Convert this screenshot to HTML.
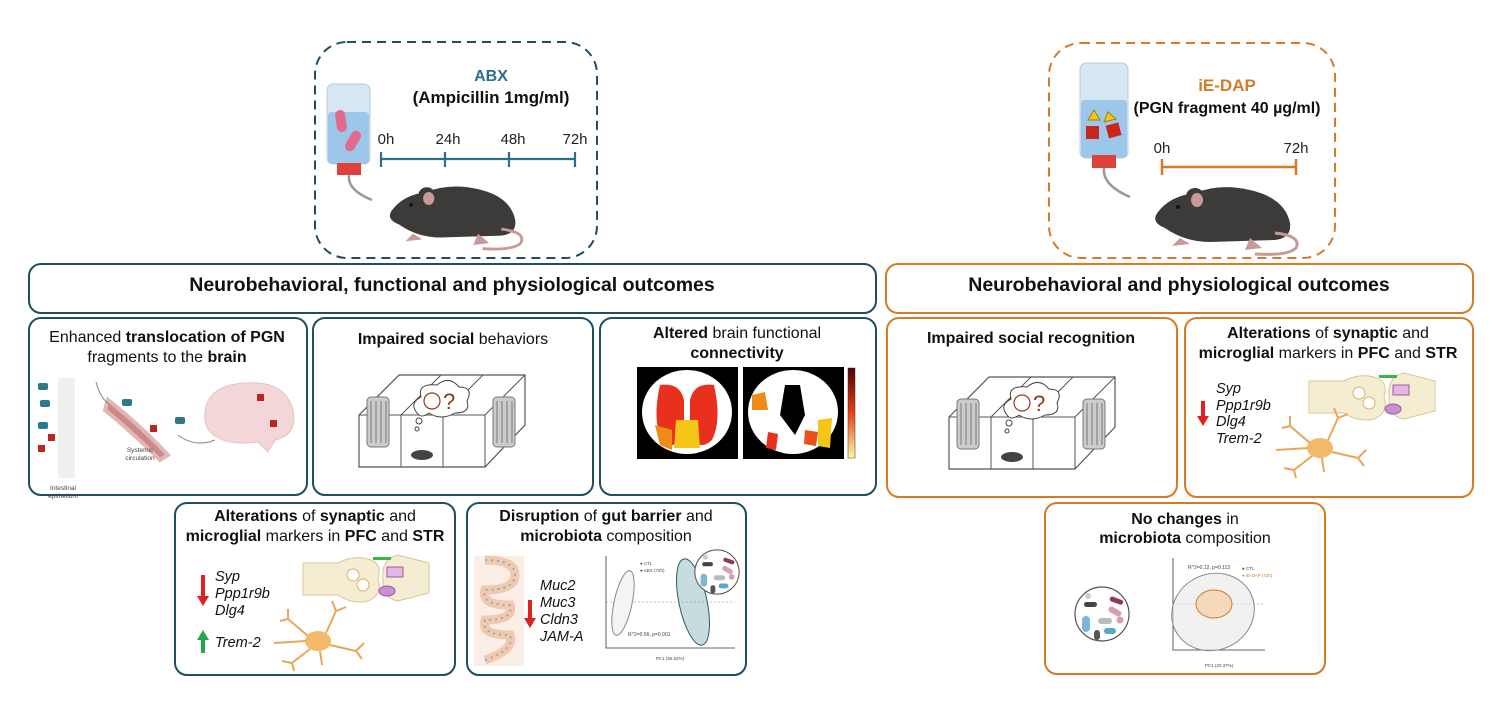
<!DOCTYPE html>
<html><head><meta charset="utf-8"><style>
html,body{margin:0;padding:0;background:#fff;}
svg{display:block;font-family:"Liberation Sans",sans-serif;}
.t{font-size:16px;fill:#111;text-anchor:middle;}
.b{font-weight:bold;}
.g{font-size:14.5px;font-style:italic;fill:#111;}
</style></head><body>
<svg width="1500" height="701" viewBox="0 0 1500 701" xmlns="http://www.w3.org/2000/svg">
<defs>
<g id="mouse">
 <path d="M15 50 Q0 44 8 34 Q20 18 45 15 Q70 5 100 12 Q135 20 140 45 Q142 60 125 62 L60 64 Q35 64 15 50Z" fill="#3d3a3a"/>
 <ellipse cx="45" cy="18" rx="9" ry="8" fill="#3d3a3a"/>
 <ellipse cx="47" cy="22" rx="6" ry="7" fill="#c79a98"/>
 <circle cx="28" cy="29" r="2" fill="#111"/>
 <path d="M125 55 Q152 58 146 70 Q138 78 105 76" stroke="#c79a98" stroke-width="3" fill="none"/>
 <path d="M30 60 L22 68 L40 66Z M100 60 L95 72 L112 70Z" fill="#c79a98"/>
</g>
<g id="cage">
 <path d="M0 40 L40 0 L166 0 L166 50 L126 92 L0 92 Z" fill="none" stroke="#555" stroke-width="1.2"/>
 <path d="M0 40 L126 40 L166 0 M126 40 L126 92 M42 40 L42 92 M84 40 L84 92 M42 40 L82 0 M84 40 L124 0" fill="none" stroke="#555" stroke-width="1"/>
 <rect x="8" y="22" width="22" height="50" rx="4" fill="#ccc" stroke="#777"/>
 <rect x="134" y="22" width="22" height="50" rx="4" fill="#ccc" stroke="#777"/>
 <path d="M12 26v42M17 26v42M22 26v42M27 26v42M138 26v42M143 26v42M148 26v42M153 26v42" stroke="#777"/>
 <ellipse cx="63" cy="80" rx="11" ry="5" fill="#444"/>
 <path d="M58 38 Q50 28 62 22 Q58 8 78 10 Q90 0 100 12 Q115 12 108 26 Q112 38 96 38 Q82 46 70 38 Q62 44 58 38Z" fill="#fff" stroke="#444"/>
 <circle cx="73" cy="26" r="8" fill="none" stroke="#8b3a1a" stroke-width="1.2"/>
 <text x="84" y="34" font-size="22" fill="#8b3a1a">?</text>
 <circle cx="60" cy="46" r="3" fill="#fff" stroke="#444"/><circle cx="58" cy="54" r="2" fill="#fff" stroke="#444"/>
</g>
<g id="syn">
 <path d="M0 8 L35 8 Q50 0 65 4 Q80 8 75 24 Q80 40 65 46 Q50 50 35 40 L0 40 Z" fill="#f5edd2" stroke="#d9c49a"/>
 <path d="M80 24 Q78 4 95 0 L126 8 L126 38 L95 46 Q80 44 80 24Z" fill="#f5edd2" stroke="#d9c49a"/>
 <circle cx="50" cy="20" r="6" fill="#fff" stroke="#d4b36a"/><circle cx="60" cy="30" r="6" fill="#fff" stroke="#d4b36a"/>
 <rect x="70" y="2" width="18" height="3" fill="#3bb54a"/>
 <rect x="84" y="12" width="16" height="10" fill="#e2b8e6" stroke="#9b5aa5"/>
 <ellipse cx="84" cy="36" rx="8" ry="5" fill="#c890d0" stroke="#9b5aa5"/>
</g>
<g id="neu">
 <ellipse cx="0" cy="0" rx="13" ry="10" fill="#f2b968"/>
 <path d="M-10 -5 L-30 -22 L-38 -20 M-30 -22 L-30 -32 M8 -8 L18 -30 L28 -34 M18 -30 L14 -40 M12 4 L38 10 L46 2 M38 10 L44 18 M-8 8 L-26 22 L-36 20 M-26 22 L-24 30 M-12 0 L-44 2 M2 10 L4 24" stroke="#e8a65a" stroke-width="2" fill="none"/>
</g>
<g id="bact">
 <circle cx="0" cy="0" r="27" fill="#fff" stroke="#555" stroke-width="1.2"/>
 <rect x="-18" y="-12" width="13" height="5" rx="2.5" fill="#444"/>
 <rect x="2" y="-20" width="14" height="5" rx="2.5" fill="#8c3a5c" transform="rotate(20)"/>
 <rect x="-20" y="2" width="8" height="16" rx="4" fill="#7bb6d4"/>
 <rect x="-4" y="4" width="14" height="6" rx="3" fill="#bbb"/>
 <rect x="6" y="-6" width="14" height="6" rx="3" fill="#d4a0b8" transform="rotate(30 12 -3)"/>
 <rect x="2" y="14" width="12" height="6" rx="3" fill="#5aa8c8"/>
 <rect x="-8" y="16" width="6" height="10" rx="3" fill="#555"/>
 <circle cx="18" cy="6" r="3.5" fill="#d4a0b8"/><circle cx="-14" cy="-18" r="3" fill="#ccc"/>
</g>
</defs>

<rect x="315" y="42" width="282" height="216" rx="32" fill="none" stroke="#1d4e63" stroke-width="2" stroke-dasharray="9 6"/>
<text x="491" y="81" font-size="16" font-weight="bold" fill="#2a6f8a" text-anchor="middle">ABX</text>
<text x="491" y="103" font-size="17" font-weight="bold" fill="#111" text-anchor="middle">(Ampicillin 1mg/ml)</text>
<text x="386" y="144" font-size="15" fill="#222" text-anchor="middle">0h</text>
<text x="448" y="144" font-size="15" fill="#222" text-anchor="middle">24h</text>
<text x="513" y="144" font-size="15" fill="#222" text-anchor="middle">48h</text>
<text x="575" y="144" font-size="15" fill="#222" text-anchor="middle">72h</text>
<path d="M381 159 H575 M381 152v15 M445 152v15 M509 152v15 M575 152v15" stroke="#2a6f8a" stroke-width="2.2"/>
<rect x="327" y="84" width="43" height="80" rx="6" fill="#d6e6f2" stroke="#b8ccd8"/>
<rect x="328" y="112" width="41" height="52" rx="4" fill="#9cc6ea"/>
<rect x="336" y="110" width="10" height="22" rx="5" fill="#e36a8a" transform="rotate(-8 341 121)"/>
<rect x="348" y="130" width="10" height="22" rx="5" fill="#e36a8a" transform="rotate(30 353 141)"/>
<rect x="337" y="163" width="24" height="12" fill="#e0403c"/>
<path d="M349 175 Q347 190 372 200" stroke="#999" stroke-width="2.5" fill="none"/>
<use href="#mouse" transform="translate(385,178) scale(0.93)"/>

<rect x="1049" y="43" width="286" height="215" rx="32" fill="none" stroke="#d67a27" stroke-width="2" stroke-dasharray="9 6"/>
<text x="1227" y="91" font-size="17" font-weight="bold" fill="#d67a27" text-anchor="middle">iE-DAP</text>
<text x="1227" y="113" font-size="16" font-weight="bold" fill="#111" text-anchor="middle">(PGN fragment 40 µg/ml)</text>
<text x="1162" y="153" font-size="15" fill="#222" text-anchor="middle">0h</text>
<text x="1296" y="153" font-size="15" fill="#222" text-anchor="middle">72h</text>
<path d="M1162 167 H1296 M1162 159v16 M1296 159v16" stroke="#d67a27" stroke-width="2.5"/>
<rect x="1080" y="63" width="48" height="95" rx="6" fill="#d6e6f2" stroke="#b8ccd8"/>
<rect x="1081" y="100" width="46" height="58" rx="4" fill="#9cc6ea"/>
<path d="M1088 120 L1094 110 L1100 120Z M1104 122 L1108 112 L1116 119Z" fill="#f5c518" stroke="#a08000"/>
<rect x="1086" y="126" width="13" height="13" fill="#c8271c"/><rect x="1107" y="124" width="13" height="13" fill="#c8271c" transform="rotate(-15 1113 130)"/>
<rect x="1092" y="155" width="24" height="13" fill="#e0403c"/>
<path d="M1104 168 Q1102 185 1130 197" stroke="#999" stroke-width="2.5" fill="none"/>
<use href="#mouse" transform="translate(1150,178) scale(1.0)"/>

<rect x="29" y="264" width="847" height="49" rx="12" fill="#fff" stroke="#1d4e63" stroke-width="2"/>
<text x="452" y="291" font-size="19.5" font-weight="bold" fill="#111" text-anchor="middle">Neurobehavioral, functional and physiological outcomes</text>
<rect x="886" y="264" width="587" height="49" rx="12" fill="#fff" stroke="#d67a27" stroke-width="2"/>
<text x="1179" y="291" font-size="19.5" font-weight="bold" fill="#111" text-anchor="middle">Neurobehavioral and physiological outcomes</text>

<rect x="29" y="318" width="278" height="177" rx="12" fill="#fff" stroke="#1d4e63" stroke-width="2"/>
<text class="t" x="167" y="342">Enhanced <tspan class="b">translocation of PGN</tspan></text>
<text class="t" x="167" y="362">fragments to the <tspan class="b">brain</tspan></text>
<rect x="58" y="378" width="17" height="100" fill="#f1efee"/>
<g fill="#2a7a8c"><rect x="38" y="383" width="10" height="7" rx="2"/><rect x="40" y="400" width="10" height="7" rx="2"/><rect x="38" y="422" width="10" height="7" rx="2"/><rect x="175" y="417" width="10" height="7" rx="2"/><rect x="236" y="400" width="10" height="7" rx="2"/><rect x="258" y="410" width="10" height="7" rx="2"/><rect x="122" y="399" width="10" height="7" rx="2"/></g>
<text x="63" y="490" font-size="6.5" fill="#444" text-anchor="middle">Intestinal</text>
<text x="63" y="498" font-size="6.5" fill="#444" text-anchor="middle">epithelium</text>
<path d="M108 400 Q140 425 168 455 L160 460 Q132 432 105 410Z" fill="#c98a88" stroke="#e3b7b5" stroke-width="4"/>
<text x="140" y="452" font-size="6.5" fill="#444" text-anchor="middle">Systemic</text>
<text x="140" y="460" font-size="6.5" fill="#444" text-anchor="middle">circulation</text>
<path d="M96 382 Q100 398 110 405" stroke="#888" fill="none"/>
<path d="M178 435 Q195 448 215 440" stroke="#888" fill="none"/>
<path d="M205 412 Q208 385 245 383 Q285 380 293 410 Q298 435 275 440 L268 452 L258 442 Q230 446 215 436 Q203 428 205 412Z" fill="#f2d6d8" stroke="#e8c2c4"/>
<g fill="#b8281e"><rect x="48" y="434" width="7" height="7"/><rect x="38" y="445" width="7" height="7"/><rect x="150" y="425" width="7" height="7"/><rect x="257" y="394" width="7" height="7"/><rect x="270" y="420" width="7" height="7"/></g>

<rect x="313" y="318" width="280" height="177" rx="12" fill="#fff" stroke="#1d4e63" stroke-width="2"/>
<text class="t" x="453" y="344"><tspan class="b">Impaired social</tspan> behaviors</text>
<use href="#cage" transform="translate(359,375)"/>

<rect x="600" y="318" width="276" height="177" rx="12" fill="#fff" stroke="#1d4e63" stroke-width="2"/>
<text class="t" x="737" y="338"><tspan class="b">Altered</tspan> brain functional</text>
<text class="t b" x="737" y="358">connectivity</text>
<rect x="637" y="367" width="101" height="92" fill="#000"/>
<ellipse cx="687" cy="412" rx="45" ry="42" fill="#fff"/>
<path d="M660 385 Q680 382 684 400 L684 440 Q672 450 662 440 Q652 420 660 385Z" fill="#e8301c"/>
<path d="M714 385 Q694 382 690 400 L690 440 Q702 450 712 440 Q722 420 714 385Z" fill="#e8301c"/>
<path d="M676 420 L698 420 L700 448 L674 448Z" fill="#f5c518"/><path d="M655 425 L672 430 L672 450 L660 445Z" fill="#f08a18"/>
<rect x="743" y="367" width="101" height="92" fill="#000"/>
<ellipse cx="793" cy="412" rx="45" ry="42" fill="#fff"/>
<path d="M785 385 L800 385 L805 415 L795 435 L780 415Z" fill="#000"/>
<path d="M752 395 L765 392 L768 410 L752 410Z" fill="#f08a18"/><path d="M818 420 L832 418 L830 448 L818 446Z" fill="#f5c518"/><path d="M805 430 L818 432 L816 446 L804 444Z" fill="#e8501c"/><path d="M768 432 L778 434 L776 450 L766 448Z" fill="#e8301c"/>
<defs><linearGradient id="cb" x1="0" y1="1" x2="0" y2="0"><stop offset="0" stop-color="#fff8a0"/><stop offset="0.5" stop-color="#e84018"/><stop offset="1" stop-color="#500000"/></linearGradient></defs>
<rect x="848" y="368" width="7" height="90" fill="url(#cb)" stroke="#333" stroke-width="0.5"/>

<rect x="175" y="503" width="280" height="172" rx="12" fill="#fff" stroke="#1d4e63" stroke-width="2"/>
<text class="t" x="315" y="521"><tspan class="b">Alterations</tspan> of <tspan class="b">synaptic</tspan> and</text>
<text class="t" x="315" y="541"><tspan class="b">microglial</tspan> markers in <tspan class="b">PFC</tspan> and <tspan class="b">STR</tspan></text>
<text class="g" x="215" y="581">Syp</text>
<text class="g" x="215" y="598">Ppp1r9b</text>
<text class="g" x="215" y="615">Dlg4</text>
<text class="g" x="215" y="647">Trem-2</text>
<path d="M203 575 V598" stroke="#e02020" stroke-width="4"/><path d="M197 596 L203 606 L209 596Z" fill="#e02020"/>
<path d="M203 653 V638" stroke="#22a84a" stroke-width="4"/><path d="M197 640 L203 630 L209 640Z" fill="#22a84a"/>
<use href="#syn" transform="translate(303,555)"/>
<use href="#neu" transform="translate(318,641)"/>

<rect x="467" y="503" width="279" height="172" rx="12" fill="#fff" stroke="#1d4e63" stroke-width="2"/>
<text class="t" x="606" y="521"><tspan class="b">Disruption</tspan> of <tspan class="b">gut barrier</tspan> and</text>
<text class="t" x="606" y="541"><tspan class="b">microbiota</tspan> composition</text>
<rect x="474" y="556" width="50" height="110" fill="#fbeee6"/>
<path d="M485 560 Q515 560 515 575 Q515 590 485 590 Q480 605 510 605 Q515 620 485 620 Q480 635 510 635 Q515 650 485 660" stroke="#f2c9b0" stroke-width="9" fill="none"/>
<path d="M485 560 Q515 560 515 575 Q515 590 485 590 Q480 605 510 605 Q515 620 485 620 Q480 635 510 635 Q515 650 485 660" stroke="#8ab0b0" stroke-width="2" stroke-dasharray="2 4" fill="none"/>
<text class="g" x="540" y="590">Muc2</text>
<text class="g" x="540" y="607">Muc3</text>
<text class="g" x="540" y="624">Cldn3</text>
<text class="g" x="540" y="641">JAM-A</text>
<path d="M530 600 V620" stroke="#e02020" stroke-width="4"/><path d="M524 618 L530 628 L536 618Z" fill="#e02020"/>
<path d="M606 556 V648 H735" stroke="#333" stroke-width="0.8" fill="none"/>
<path d="M606 602 H735" stroke="#888" stroke-width="0.6" stroke-dasharray="2 2"/>
<ellipse cx="623" cy="603" rx="9" ry="33" fill="#f4f4f4" stroke="#888" transform="rotate(12 623 603)"/>
<ellipse cx="693" cy="602" rx="14" ry="44" fill="#5e9a9a" fill-opacity="0.35" stroke="#2a5a6a" transform="rotate(-12 693 602)"/>
<text x="628" y="636" font-size="5" fill="#444">R^2=0.56, p=0.001</text>
<text x="640" y="565" font-size="4.5" fill="#444">● CTL</text><text x="640" y="572" font-size="4.5" fill="#444">● ABX (72h)</text>
<text x="670" y="660" font-size="4.5" fill="#444" text-anchor="middle">PC1 (56.52%)</text>
<use href="#bact" transform="translate(717,572) scale(0.82)"/>

<rect x="887" y="318" width="290" height="179" rx="12" fill="#fff" stroke="#d67a27" stroke-width="2"/>
<text class="t b" x="1031" y="343">Impaired social recognition</text>
<use href="#cage" transform="translate(949,377)"/>

<rect x="1185" y="318" width="288" height="179" rx="12" fill="#fff" stroke="#d67a27" stroke-width="2"/>
<text class="t" x="1328" y="338"><tspan class="b">Alterations</tspan> of <tspan class="b">synaptic</tspan> and</text>
<text class="t" x="1328" y="358"><tspan class="b">microglial</tspan> markers in <tspan class="b">PFC</tspan> and <tspan class="b">STR</tspan></text>
<text class="g" x="1216" y="393">Syp</text>
<text class="g" x="1216" y="410">Ppp1r9b</text>
<text class="g" x="1216" y="426">Dlg4</text>
<text class="g" x="1216" y="443">Trem-2</text>
<path d="M1203 401 V418" stroke="#e02020" stroke-width="4"/><path d="M1197 416 L1203 426 L1209 416Z" fill="#e02020"/>
<use href="#syn" transform="translate(1309,373)"/>
<use href="#neu" transform="translate(1320,448)"/>

<rect x="1045" y="503" width="280" height="171" rx="12" fill="#fff" stroke="#d67a27" stroke-width="2"/>
<text class="t" x="1185" y="524"><tspan class="b">No changes</tspan> in</text>
<text class="t" x="1185" y="543"><tspan class="b">microbiota</tspan> composition</text>
<use href="#bact" transform="translate(1102,614)"/>
<path d="M1173 558 V650 H1265" stroke="#333" stroke-width="0.8" fill="none"/>
<path d="M1173 604 H1265" stroke="#888" stroke-width="0.6" stroke-dasharray="2 2"/>
<ellipse cx="1213" cy="612" rx="42" ry="38" fill="#e8e8e8" fill-opacity="0.6" stroke="#888" transform="rotate(-25 1213 612)"/>
<ellipse cx="1214" cy="604" rx="18" ry="14" fill="#f7c99a" fill-opacity="0.6" stroke="#d67a27"/>
<text x="1188" y="569" font-size="5" fill="#444">R^2=0.12, p=0.113</text>
<text x="1242" y="570" font-size="4.5" fill="#444">● CTL</text><text x="1242" y="577" font-size="4.5" fill="#d67a27">● iE-DAP (72h)</text>
<text x="1219" y="667" font-size="4.5" fill="#444" text-anchor="middle">PC1 (20.37%)</text>
</svg>
</body></html>
